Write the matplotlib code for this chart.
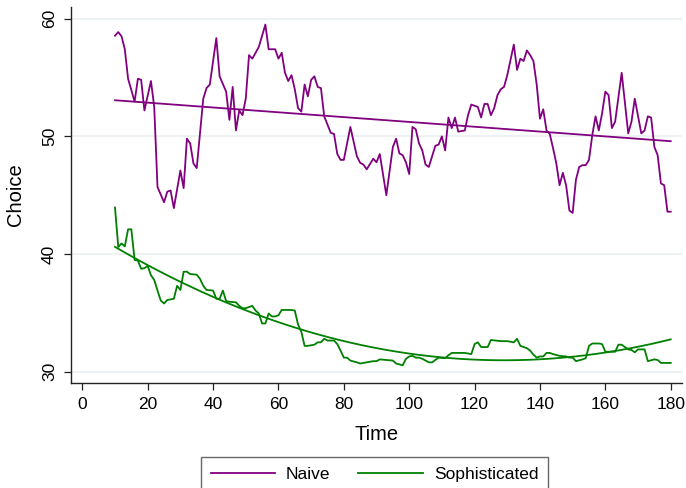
import numpy as np
import matplotlib
matplotlib.use("Agg")
import matplotlib.pyplot as plt
from matplotlib.lines import Line2D

plt.rcParams['font.family'] = ['Liberation Sans', 'DejaVu Sans']

# ---- data ----
naive_t = [10, 11, 12, 13, 14, 16, 17, 18, 19, 21, 22, 23, 25, 26, 27, 28, 30, 31, 32, 33,
           34, 35, 37, 38, 39, 41, 42, 44, 45, 46, 47, 48, 49, 50, 51, 52, 54, 56, 57, 59,
           60, 61, 62, 63, 64, 65, 66, 67, 68, 69, 70, 71, 72, 73, 74, 76, 77, 78, 79, 80,
           82, 84, 85, 86, 87, 89, 90, 91, 93, 95, 96, 97, 98, 99, 100, 101, 102, 103, 104, 105,
           106, 107, 108, 109, 110, 111, 112, 113, 114, 115, 117, 118, 119, 121, 122, 123, 124, 125, 126, 127,
           128, 129, 130, 132, 133, 134, 135, 136, 137, 138, 139, 140, 141, 142, 143, 144, 145, 146, 147, 148,
           149, 150, 151, 152, 153, 154, 155, 156, 157, 158, 159, 160, 161, 162, 163, 165, 167, 168, 169, 171,
           172, 173, 174, 175, 176, 177, 178, 179, 180]
naive_v = [58.55, 58.86, 58.5, 57.4, 54.9, 52.95, 54.9, 54.8, 52.2, 54.7, 52.5, 45.7, 44.4, 45.3, 45.4, 43.9, 47.1, 45.6, 49.8, 49.4,
           47.7, 47.3, 53.2, 54.1, 54.4, 58.35, 55.1, 53.8, 51.4, 54.2, 50.5, 52.2, 51.8, 53.2, 56.9, 56.6, 57.6, 59.5, 57.4, 57.4,
           56.6, 57.1, 55.4, 54.7, 55.2, 54.0, 52.4, 52.1, 54.4, 53.4, 54.8, 55.1, 54.2, 54.1, 51.7, 50.3, 50.2, 48.5, 48.0, 48.0,
           50.8, 48.3, 47.75, 47.6, 47.2, 48.1, 47.8, 48.5, 45.0, 49.1, 49.8, 48.55, 48.4, 47.8, 46.8, 50.8, 50.6, 49.4, 48.8, 47.6,
           47.4, 48.3, 49.2, 49.3, 50.0, 48.8, 51.6, 50.7, 51.6, 50.4, 50.5, 51.8, 52.7, 52.5, 51.6, 52.75, 52.75, 51.8, 52.4, 53.5,
           54.0, 54.2, 55.2, 57.8, 55.65, 56.6, 56.4, 57.3, 56.9, 56.4, 54.4, 51.5, 52.3, 50.5, 50.2, 49.0, 47.7, 45.85, 46.9, 45.85,
           43.7, 43.5, 46.3, 47.4, 47.55, 47.55, 48.0, 50.1, 51.7, 50.5, 51.95, 53.8, 53.5, 50.7, 51.25, 55.4, 50.25, 51.25, 53.2, 50.25,
           50.5, 51.7, 51.6, 49.1, 48.4, 46.0, 45.85, 43.6, 43.6]

soph_t = [10, 11, 12, 13, 14, 15, 16, 17, 18, 19, 20, 21, 22, 23, 24, 25, 26, 28, 29, 30,
          31, 32, 33, 35, 36, 37, 38, 40, 41, 42, 43, 44, 45, 47, 48, 49, 50, 51, 52, 53,
          54, 55, 56, 57, 58, 59, 60, 61, 64, 65, 66, 67, 68, 69, 71, 72, 73, 74, 75, 77,
          78, 79, 80, 81, 82, 84, 85, 87, 89, 90, 91, 93, 95, 96, 98, 99, 100, 101, 102, 103,
          104, 106, 107, 108, 109, 111, 112, 113, 115, 117, 119, 120, 121, 122, 123, 124, 125, 128, 130, 132,
          133, 134, 136, 137, 138, 139, 140, 141, 142, 143, 144, 146, 148, 149, 150, 151, 153, 154, 155, 156,
          158, 159, 160, 162, 163, 164, 165, 167, 168, 169, 170, 172, 173, 175, 176, 177, 180]
soph_v = [43.95, 40.6, 40.9, 40.65, 42.1, 42.1, 39.5, 39.45, 38.75, 38.8, 39.0, 38.2, 37.8, 36.9, 36.05, 35.8, 36.1, 36.2, 37.3, 36.95,
          38.5, 38.5, 38.3, 38.25, 37.9, 37.3, 36.95, 36.9, 36.2, 36.2, 36.9, 36.0, 35.95, 35.9, 35.6, 35.4, 35.4, 35.5, 35.6, 35.2,
          34.95, 34.1, 34.1, 34.95, 34.7, 34.7, 34.8, 35.25, 35.25, 35.2, 34.0, 33.4, 32.2, 32.2, 32.3, 32.5, 32.5, 32.8, 32.65, 32.65,
          32.35, 31.8, 31.2, 31.2, 30.95, 30.8, 30.7, 30.8, 30.9, 30.9, 31.05, 31.0, 30.95, 30.7, 30.55, 31.1, 31.3, 31.35, 31.2, 31.2,
          31.1, 30.8, 30.8, 31.0, 31.2, 31.15, 31.4, 31.6, 31.6, 31.6, 31.5, 32.35, 32.5, 32.1, 32.1, 32.1, 32.7, 32.6, 32.6, 32.5,
          32.8, 32.2, 32.0, 31.8, 31.45, 31.2, 31.3, 31.3, 31.6, 31.6, 31.5, 31.35, 31.3, 31.2, 31.2, 30.9, 31.05, 31.15, 32.2, 32.4,
          32.4, 32.35, 31.7, 31.7, 31.7, 32.3, 32.3, 31.9, 31.85, 31.65, 31.9, 31.9, 30.9, 31.05, 31.0, 30.75, 30.75]

x_ticks = [0, 20, 40, 60, 80, 100, 120, 140, 160, 180]
y_ticks = [30, 40, 50, 60]
series_labels = ["Naive", "Sophisticated"]
x_label = "Time"
y_label = "Choice"

PURPLE = "#800080"
GREEN = "#008000"

naive_t = np.array(naive_t, float); naive_v = np.array(naive_v, float)
soph_t = np.array(soph_t, float); soph_v = np.array(soph_v, float)

fig = plt.figure(figsize=(6.86, 4.88), dpi=100)
ax = fig.add_axes([71/686, 1-382.7/488, (682-71)/686, (382.7-7)/488])

ax.set_xlim(-3.46, 183.45)
ax.set_ylim(29.07, 60.99)

for y in y_ticks:
    ax.axhline(y, color="#E9F0F2", lw=1.2, zorder=0)

# fitted lines (linear for Naive, quadratic for Sophisticated)
tt = np.linspace(naive_t.min(), naive_t.max(), 200)
pn = np.polyfit(naive_t, naive_v, 1)
ps = np.polyfit(soph_t, soph_v, 2)

ax.plot(naive_t, naive_v, color=PURPLE, lw=1.3, zorder=3)
ax.plot(tt, np.polyval(pn, tt), color=PURPLE, lw=1.3, zorder=3)
ax.plot(soph_t, soph_v, color=GREEN, lw=1.3, zorder=3)
ax.plot(tt, np.polyval(ps, tt), color=GREEN, lw=1.3, zorder=3)

for s in ["top", "right"]:
    ax.spines[s].set_visible(False)
for s in ["left", "bottom"]:
    ax.spines[s].set_color("#222222")
    ax.spines[s].set_linewidth(1.0)

ax.set_xticks(x_ticks)
ax.set_yticks(y_ticks)
ax.tick_params(axis="both", direction="out", length=5, width=0.9, color="#222222",
               labelsize=12.5, labelcolor="black")
ax.tick_params(axis="x", pad=5)
ax.tick_params(axis="y", pad=5)
for lab in ax.get_yticklabels():
    lab.set_rotation(90)
    lab.set_va("center")

ax.set_xlabel(x_label, fontsize=14.5, labelpad=10)
ax.set_ylabel(y_label, fontsize=14.5, labelpad=12)

handles = [Line2D([], [], color=PURPLE, lw=1.3), Line2D([], [], color=GREEN, lw=1.3)]
leg = fig.legend(handles, series_labels, loc="upper left",
                 bbox_to_anchor=(201/686, 1-457/488), ncol=2, fontsize=12.5,
                 frameon=True, fancybox=False, handlelength=3.7, handletextpad=0.65,
                 columnspacing=1.6, borderpad=0.55, borderaxespad=0)
leg.get_frame().set_edgecolor("#444444")
leg.get_frame().set_linewidth(1.0)

fig.savefig("out.png", dpi=100)
